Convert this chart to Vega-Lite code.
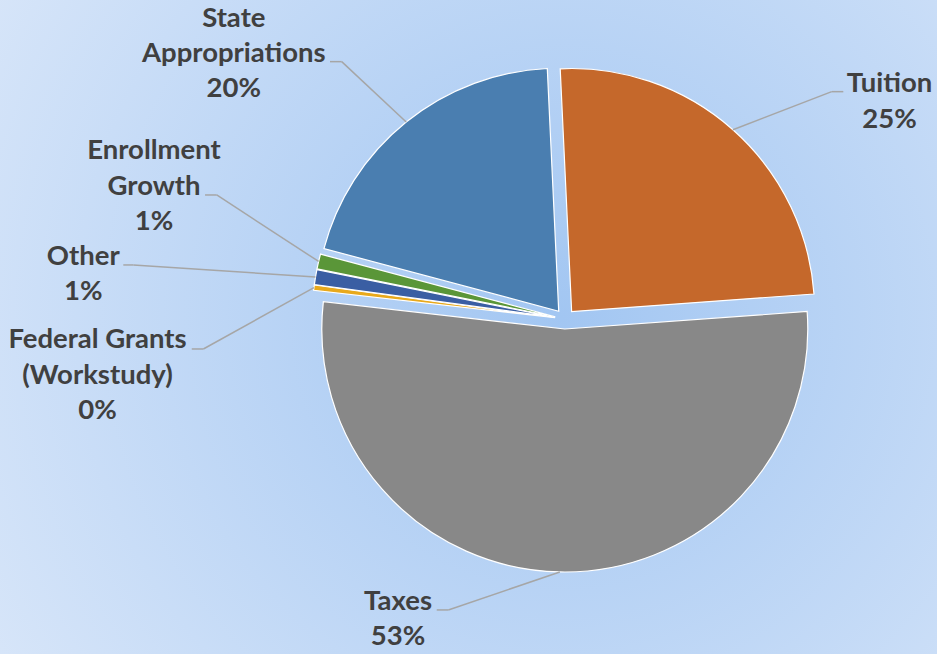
{
  "$schema": "https://vega.github.io/schema/vega-lite/v6.json",
  "width": 937,
  "height": 654,
  "autosize": {"type": "none"},
  "padding": 0,
  "background": "#c8dcf6",
  "config": {"view": {"stroke": null}, "text": {"font": "Lato", "fontWeight": "bold", "fontSize": 27.5, "color": "#404040", "align": "center", "baseline": "alphabetic", "lineBreak": "\n", "lineHeight": 35.5}, "rule": {"color": "#a6a6a6", "strokeWidth": 1.5}},
  "layer": [
    {
      "data": {"values": [{}]},
      "mark": {
        "type": "rect",
        "fill": {
          "gradient": "radial",
          "x1": 0.6, "y1": 0.49, "r1": 0,
          "x2": 0.6, "y2": 0.49, "r2": 0.72,
          "stops": [
            {"offset": 0, "color": "#a2c6f2"},
            {"offset": 1, "color": "#d8e6f9"}
          ]
        }
      },
      "encoding": {
        "x": {"value": 0},
        "x2": {"value": "width"},
        "y": {"value": 0},
        "y2": {"value": "height"}
      }
    },
    {
      "data": {
        "values": [
          {"category": "Tuition", "name": "Tuition", "share": 24.6, "order": 1},
          {"category": "Taxes", "name": "Taxes", "share": 52.95, "order": 2},
          {"category": "Federal Grants (Workstudy)", "name": "Federal Grants\n(Workstudy)", "share": 0.35, "order": 3},
          {"category": "Other", "name": "Other", "share": 1.0, "order": 4},
          {"category": "Enrollment Growth", "name": "Enrollment\nGrowth", "share": 1.0, "order": 5},
          {"category": "State Appropriations", "name": "State\nAppropriations", "share": 20.1, "order": 6}
        ]
      },
      "transform": [
        {"stack": "share", "groupby": [], "sort": [{"field": "order", "order": "ascending"}], "as": ["v0", "v1"]},
        {"calculate": "(datum.v0 + datum.v1) / 200 * 2 * PI - 0.0471", "as": "mid"},
        {"calculate": "10 * sin(datum.mid)", "as": "ox"},
        {"calculate": "10 * cos(datum.mid)", "as": "oy"},
        {"calculate": "253 * sin(datum.mid)", "as": "ex"},
        {"calculate": "253 * cos(datum.mid)", "as": "ey"},
        {"calculate": "datum.name + '\\n' + round(datum.share) + '%'", "as": "txt"}
      ],
      "layer": [
        {
          "mark": {"type": "arc", "radius": 243, "stroke": "#ffffff", "strokeWidth": 1.2},
          "encoding": {
            "x": {"field": "ox", "type": "quantitative", "scale": {"domain": [-565, 372], "nice": false, "zero": false}, "axis": null},
            "y": {"field": "oy", "type": "quantitative", "scale": {"domain": [-335, 319], "nice": false, "zero": false}, "axis": null},
            "theta": {"field": "v0", "type": "quantitative", "stack": null, "scale": {"domain": [0, 100], "range": [-0.0471, 6.2361]}},
            "theta2": {"field": "v1"},
            "color": {
              "field": "category", "type": "nominal", "legend": null,
              "scale": {
                "domain": ["Tuition", "Taxes", "Federal Grants (Workstudy)", "Other", "Enrollment Growth", "State Appropriations"],
                "range": ["#c5682b", "#888888", "#e8a91c", "#3a5ea3", "#5a9638", "#4a7eb0"]
              }
            }
          }
        },
        {
          "transform": [{"filter": "datum.category === 'Tuition'"}],
          "encoding": {
            "x": {"field": "ex", "type": "quantitative", "scale": {"domain": [-565, 372], "nice": false, "zero": false}, "axis": null},
            "y": {"field": "ey", "type": "quantitative", "scale": {"domain": [-335, 319], "nice": false, "zero": false}, "axis": null}
          },
          "layer": [
            {"mark": {"type": "rule", "x2Offset": 98.8, "y2Offset": -38.1}, "encoding": {"x2": {"field": "ex"}, "y2": {"field": "ey"}}},
            {"mark": {"type": "rule", "xOffset": 98.8, "yOffset": -38.1, "x2Offset": 110.4, "y2Offset": -38.1}, "encoding": {"x2": {"field": "ex"}, "y2": {"field": "ey"}}},
            {"mark": {"type": "text", "dx": 156.6, "dy": -37.5}, "encoding": {"text": {"field": "txt"}}}
          ]
        },
        {
          "transform": [{"filter": "datum.category === 'Taxes'"}],
          "encoding": {
            "x": {"field": "ex", "type": "quantitative", "scale": {"domain": [-565, 372], "nice": false, "zero": false}, "axis": null},
            "y": {"field": "ey", "type": "quantitative", "scale": {"domain": [-335, 319], "nice": false, "zero": false}, "axis": null}
          },
          "layer": [
            {"mark": {"type": "rule", "x2Offset": -111.5, "y2Offset": 38}, "encoding": {"x2": {"field": "ex"}, "y2": {"field": "ey"}}},
            {"mark": {"type": "rule", "xOffset": -111.5, "yOffset": 38, "x2Offset": -123.1, "y2Offset": 38}, "encoding": {"x2": {"field": "ex"}, "y2": {"field": "ey"}}},
            {"mark": {"type": "text", "dx": -161.8, "dy": 38}, "encoding": {"text": {"field": "txt"}}}
          ]
        },
        {
          "transform": [{"filter": "datum.category === 'Federal Grants (Workstudy)'"}],
          "encoding": {
            "x": {"field": "ex", "type": "quantitative", "scale": {"domain": [-565, 372], "nice": false, "zero": false}, "axis": null},
            "y": {"field": "ey", "type": "quantitative", "scale": {"domain": [-335, 319], "nice": false, "zero": false}, "axis": null}
          },
          "layer": [
            {"mark": {"type": "rule", "x2Offset": -110.6, "y2Offset": 61.3}, "encoding": {"x2": {"field": "ex"}, "y2": {"field": "ey"}}},
            {"mark": {"type": "rule", "xOffset": -110.6, "yOffset": 61.3, "x2Offset": -122.2, "y2Offset": 61.3}, "encoding": {"x2": {"field": "ex"}, "y2": {"field": "ey"}}},
            {"mark": {"type": "text", "dx": -216.4, "dy": 60.6}, "encoding": {"text": {"field": "txt"}}}
          ]
        },
        {
          "transform": [{"filter": "datum.category === 'Other'"}],
          "encoding": {
            "x": {"field": "ex", "type": "quantitative", "scale": {"domain": [-565, 372], "nice": false, "zero": false}, "axis": null},
            "y": {"field": "ey", "type": "quantitative", "scale": {"domain": [-335, 319], "nice": false, "zero": false}, "axis": null}
          },
          "layer": [
            {"mark": {"type": "rule", "x2Offset": -182.2, "y2Offset": -12.1}, "encoding": {"x2": {"field": "ex"}, "y2": {"field": "ey"}}},
            {"mark": {"type": "rule", "xOffset": -182.2, "yOffset": -12.1, "x2Offset": -192.2, "y2Offset": -12.1}, "encoding": {"x2": {"field": "ex"}, "y2": {"field": "ey"}}},
            {"mark": {"type": "text", "dx": -232.2, "dy": -12.1}, "encoding": {"text": {"field": "txt"}}}
          ]
        },
        {
          "transform": [{"filter": "datum.category === 'Enrollment Growth'"}],
          "encoding": {
            "x": {"field": "ex", "type": "quantitative", "scale": {"domain": [-565, 372], "nice": false, "zero": false}, "axis": null},
            "y": {"field": "ey", "type": "quantitative", "scale": {"domain": [-335, 319], "nice": false, "zero": false}, "axis": null}
          },
          "layer": [
            {"mark": {"type": "rule", "x2Offset": -101.9, "y2Offset": -66.5}, "encoding": {"x2": {"field": "ex"}, "y2": {"field": "ey"}}},
            {"mark": {"type": "rule", "xOffset": -101.9, "yOffset": -66.5, "x2Offset": -113.6, "y2Offset": -66.5}, "encoding": {"x2": {"field": "ex"}, "y2": {"field": "ey"}}},
            {"mark": {"type": "text", "dx": -164.6, "dy": -102.2}, "encoding": {"text": {"field": "txt"}}}
          ]
        },
        {
          "transform": [{"filter": "datum.category === 'State Appropriations'"}],
          "encoding": {
            "x": {"field": "ex", "type": "quantitative", "scale": {"domain": [-565, 372], "nice": false, "zero": false}, "axis": null},
            "y": {"field": "ey", "type": "quantitative", "scale": {"domain": [-335, 319], "nice": false, "zero": false}, "axis": null}
          },
          "layer": [
            {"mark": {"type": "rule", "x2Offset": -64.5, "y2Offset": -60.4}, "encoding": {"x2": {"field": "ex"}, "y2": {"field": "ey"}}},
            {"mark": {"type": "rule", "xOffset": -64.5, "yOffset": -60.4, "x2Offset": -76.2, "y2Offset": -60.4}, "encoding": {"x2": {"field": "ex"}, "y2": {"field": "ey"}}},
            {"mark": {"type": "text", "dx": -172.4, "dy": -95.4, "lineHeight": 35}, "encoding": {"text": {"field": "txt"}}}
          ]
        }
      ]
    }
  ]
}
